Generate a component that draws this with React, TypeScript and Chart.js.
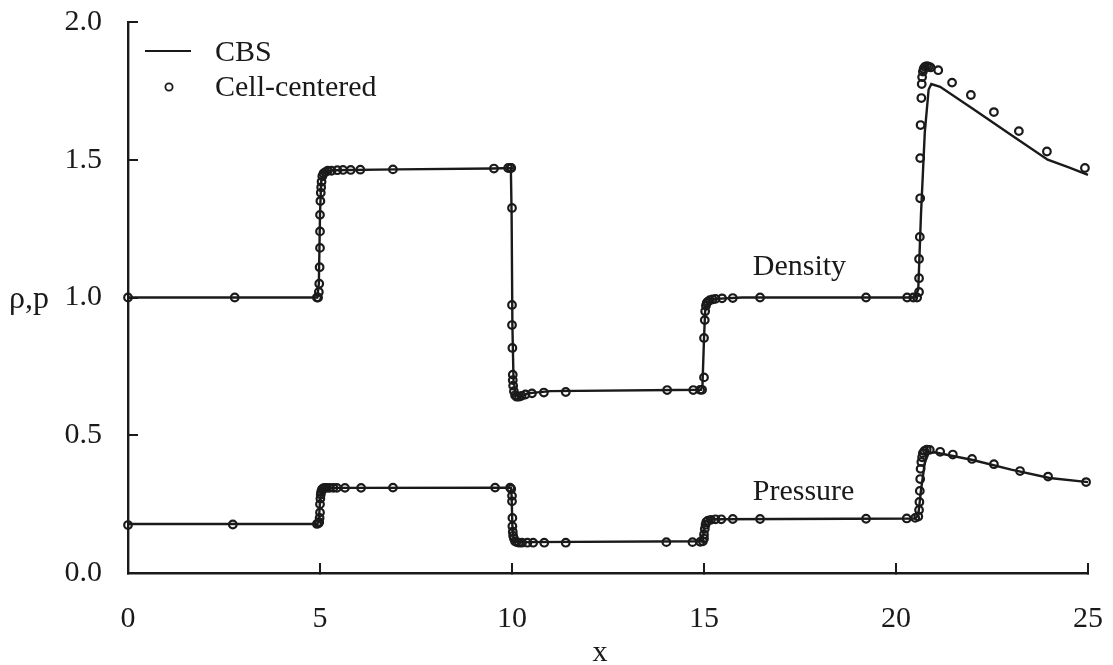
import React, { useEffect, useRef } from "react";
import { Chart, registerables } from "chart.js";

Chart.register(...registerables);

// ---- Axis ticks ----
const xTickValues = [0, 5, 10, 15, 20, 25];
const yTickValues = [0.0, 0.5, 1.0, 1.5, 2.0];

// ---- CBS (solid line) : density ----
const cbsDensityX = [0, 4.93, 4.97, 5.0, 5.03, 5.1, 5.3, 7.0, 9.5, 9.97, 9.99, 10.01, 10.04, 10.1, 10.2, 10.4, 11.0, 14.92, 14.96, 15.0, 15.03, 15.1, 15.3, 16.0, 20.5, 20.58, 20.65, 20.75, 20.85, 20.92, 21.15, 22.0, 23.0, 23.95, 24.5, 25.0];
const cbsDensityY = [1.0, 1.0, 1.05, 1.3, 1.42, 1.455, 1.462, 1.465, 1.468, 1.47, 1.3, 0.9, 0.7, 0.645, 0.638, 0.652, 0.66, 0.665, 0.68, 0.85, 0.95, 0.985, 0.995, 1.0, 1.0, 1.03, 1.3, 1.6, 1.755, 1.775, 1.765, 1.685, 1.59, 1.5, 1.472, 1.445];

// ---- CBS (solid line) : pressure ----
const cbsPressureX = [0, 4.93, 4.97, 5.0, 5.03, 5.1, 5.3, 9.97, 9.99, 10.01, 10.04, 10.1, 10.3, 14.92, 14.96, 15.0, 15.03, 15.1, 15.3, 20.5, 20.58, 20.65, 20.75, 20.85, 21.0, 22.0, 23.0, 24.0, 25.0];
const cbsPressureY = [0.178, 0.178, 0.19, 0.26, 0.3, 0.307, 0.309, 0.31, 0.28, 0.17, 0.125, 0.113, 0.112, 0.115, 0.12, 0.16, 0.185, 0.193, 0.195, 0.198, 0.21, 0.3, 0.4, 0.435, 0.438, 0.41, 0.375, 0.345, 0.33];

// ---- Cell-centered (circles) : density ----
const ccDensityX = [0, 2.78, 4.92, 4.95, 4.97, 4.98, 4.99, 5.0, 5.0, 5.0, 5.01, 5.02, 5.03, 5.04, 5.06, 5.09, 5.14, 5.2, 5.3, 5.45, 5.6, 5.8, 6.05, 6.9, 9.53, 9.9, 9.96, 9.98, 10.0, 10.0, 10.0, 10.01, 10.02, 10.02, 10.03, 10.05, 10.08, 10.12, 10.18, 10.25, 10.35, 10.52, 10.83, 11.4, 14.04, 14.72, 14.9, 14.95, 15.0, 15.0, 15.02, 15.03, 15.05, 15.07, 15.1, 15.15, 15.22, 15.3, 15.47, 15.75, 16.46, 19.22, 20.29, 20.45, 20.55, 20.6, 20.6, 20.6, 20.62, 20.63, 20.63, 20.64, 20.66, 20.67, 20.68, 20.7, 20.72, 20.75, 20.8, 20.85, 20.9, 21.1, 21.46, 21.95, 22.55, 23.2, 23.93, 24.92];
const ccDensityY = [1.0, 1.0, 1.0, 1.0, 1.02, 1.05, 1.11, 1.18, 1.24, 1.3, 1.35, 1.38, 1.4, 1.42, 1.44, 1.45, 1.455, 1.46, 1.46, 1.462, 1.463, 1.463, 1.464, 1.465, 1.468, 1.47, 1.47, 1.47, 1.325, 0.973, 0.9, 0.817, 0.72, 0.7, 0.68, 0.66, 0.645, 0.64, 0.64, 0.643, 0.648, 0.652, 0.655, 0.657, 0.664, 0.664, 0.665, 0.665, 0.71, 0.853, 0.918, 0.95, 0.97, 0.98, 0.985, 0.99, 0.993, 0.995, 0.997, 0.998, 1.0, 1.0, 1.0, 1.0, 1.0, 1.02, 1.07, 1.14, 1.22, 1.36, 1.506, 1.626, 1.724, 1.775, 1.8, 1.82, 1.83, 1.837, 1.84, 1.838, 1.835, 1.825, 1.78, 1.735, 1.673, 1.604, 1.53, 1.47];

// ---- Cell-centered (circles) : pressure ----
const ccPressureX = [0, 2.73, 4.92, 4.96, 4.98, 4.99, 5.0, 5.0, 5.01, 5.02, 5.03, 5.05, 5.08, 5.12, 5.18, 5.25, 5.35, 5.44, 5.65, 6.07, 6.9, 9.56, 9.95, 9.98, 10.0, 10.0, 10.01, 10.01, 10.02, 10.03, 10.05, 10.08, 10.12, 10.18, 10.26, 10.4, 10.55, 10.84, 11.4, 14.02, 14.7, 14.9, 14.97, 15.0, 15.0, 15.02, 15.04, 15.06, 15.1, 15.18, 15.3, 15.45, 15.75, 16.46, 19.22, 20.28, 20.5, 20.58, 20.6, 20.61, 20.62, 20.63, 20.64, 20.66, 20.68, 20.7, 20.74, 20.8, 20.88, 21.15, 21.48, 21.98, 22.55, 23.23, 23.96, 24.95];
const ccPressureY = [0.174, 0.176, 0.178, 0.18, 0.185, 0.2, 0.22, 0.25, 0.27, 0.285, 0.295, 0.303, 0.307, 0.309, 0.309, 0.309, 0.309, 0.309, 0.309, 0.309, 0.31, 0.31, 0.31, 0.305, 0.28, 0.26, 0.2, 0.17, 0.15, 0.135, 0.125, 0.115, 0.112, 0.11, 0.11, 0.11, 0.11, 0.11, 0.11, 0.112, 0.112, 0.113, 0.115, 0.125, 0.14, 0.16, 0.175, 0.185, 0.19, 0.193, 0.195, 0.195, 0.196, 0.196, 0.197, 0.198, 0.2, 0.205, 0.229, 0.258, 0.298, 0.341, 0.378, 0.403, 0.42, 0.435, 0.443, 0.448, 0.447, 0.44, 0.43, 0.414, 0.395, 0.37, 0.35, 0.33];

// ---- Texts ----
const legendLineLabel = "CBS";
const legendPointLabel = "Cell-centered";
const densityLabel = "Density";
const pressureLabel = "Pressure";
const yAxisLabel = "ρ,p";
const xAxisLabel = "x";

const INK = "#1a1a1a";
const FONT = '"Liberation Serif", "Times New Roman", serif';

const zip = (xs: number[], ys: number[]) => xs.map((x, i) => ({ x, y: ys[i] }));

const textPlugin = {
  id: "textPlugin",
  afterDraw(chart: any) {
    const ctx = chart.ctx as CanvasRenderingContext2D;
    const { left, right, top, bottom } = chart.chartArea;
    const xs = chart.scales.x;
    const ys = chart.scales.y;
    ctx.save();
    ctx.fillStyle = INK;
    ctx.strokeStyle = INK;
    ctx.font = `30px ${FONT}`;
    ctx.textBaseline = "middle";
    ctx.textAlign = "left";

    // legend
    const lx = left + 17;
    ctx.lineWidth = 2;
    ctx.beginPath();
    ctx.moveTo(lx, top + 29);
    ctx.lineTo(lx + 46, top + 29);
    ctx.stroke();
    ctx.fillText(legendLineLabel, lx + 70, top + 31);
    ctx.lineWidth = 1.8;
    ctx.beginPath();
    ctx.arc(lx + 24, top + 65, 3.6, 0, Math.PI * 2);
    ctx.stroke();
    ctx.fillText(legendPointLabel, lx + 70, top + 66);

    // curve labels
    ctx.textBaseline = "alphabetic";
    ctx.fillText(densityLabel, xs.getPixelForValue(16.27), ys.getPixelForValue(1.08));
    ctx.fillText(pressureLabel, xs.getPixelForValue(16.27), ys.getPixelForValue(0.265));

    // axis labels
    ctx.font = `32px ${FONT}`;
    ctx.fillText(yAxisLabel, 9, ys.getPixelForValue(1.0) + 10);
    ctx.font = `30px ${FONT}`;
    ctx.textAlign = "center";
    ctx.fillText(xAxisLabel, (left + right) / 2 - 8, bottom + 88);
    ctx.restore();
  },
};

const zeroPadding = (s: any) => {
  s.paddingLeft = 0;
  s.paddingRight = 0;
  s.paddingTop = 0;
  s.paddingBottom = 0;
};

export default function App() {
  const ref = useRef<HTMLCanvasElement | null>(null);

  useEffect(() => {
    if (!ref.current) return;
    const chart = new Chart(ref.current, {
      type: "scatter",
      data: {
        datasets: [
          {
            label: "CBS density",
            data: zip(cbsDensityX, cbsDensityY),
            showLine: true,
            borderColor: INK,
            borderWidth: 2.4,
            pointRadius: 0,
            tension: 0,
            clip: false,
          } as any,
          {
            label: "CBS pressure",
            data: zip(cbsPressureX, cbsPressureY),
            showLine: true,
            borderColor: INK,
            borderWidth: 2.4,
            pointRadius: 0,
            tension: 0,
            clip: false,
          } as any,
          {
            label: "Cell-centered density",
            data: zip(ccDensityX, ccDensityY),
            showLine: false,
            borderColor: INK,
            backgroundColor: "rgba(255,255,255,0)",
            borderWidth: 2.2,
            pointRadius: 3.8,
            clip: false,
          } as any,
          {
            label: "Cell-centered pressure",
            data: zip(ccPressureX, ccPressureY),
            showLine: false,
            borderColor: INK,
            backgroundColor: "rgba(255,255,255,0)",
            borderWidth: 2.2,
            pointRadius: 3.8,
            clip: false,
          } as any,
        ],
      },
      options: {
        responsive: false,
        animation: false,
        events: [],
        layout: { padding: { top: 22, right: 25, left: 0, bottom: 0 } },
        plugins: {
          legend: { display: false },
          tooltip: { enabled: false },
        },
        scales: {
          x: {
            type: "linear",
            min: 0,
            max: 25,
            afterBuildTicks: (s: any) => {
              s.ticks = xTickValues.map((v) => ({ value: v }));
            },
            afterFit: (s: any) => {
              s.height = 92;
              zeroPadding(s);
            },
            ticks: {
              padding: 38,
              color: INK,
              font: { family: FONT, size: 30 },
              callback: (v: any) => String(v),
              maxRotation: 0,
            },
            grid: {
              display: true,
              drawOnChartArea: false,
              drawTicks: true,
              tickLength: -10,
              color: INK,
              lineWidth: 2,
            },
            border: { display: true, color: INK, width: 2.4 },
          },
          y: {
            type: "linear",
            min: 0,
            max: 2,
            afterBuildTicks: (s: any) => {
              s.ticks = yTickValues.map((v) => ({ value: v }));
            },
            afterFit: (s: any) => {
              s.width = 128;
              zeroPadding(s);
            },
            ticks: {
              padding: 36,
              color: INK,
              font: { family: FONT, size: 30 },
              callback: (v: any) => Number(v).toFixed(1),
            },
            grid: {
              display: true,
              drawOnChartArea: false,
              drawTicks: true,
              tickLength: -10,
              color: INK,
              lineWidth: 2,
            },
            border: { display: true, color: INK, width: 2.4 },
          },
        },
      },
      plugins: [textPlugin],
    });
    return () => chart.destroy();
  }, []);

  return (
    <div style={{ position: "fixed", left: 0, top: 0, width: 1113, height: 665, background: "#fff" }}>
      <canvas ref={ref} width={1113} height={665} style={{ display: "block" }} />
    </div>
  );
}
